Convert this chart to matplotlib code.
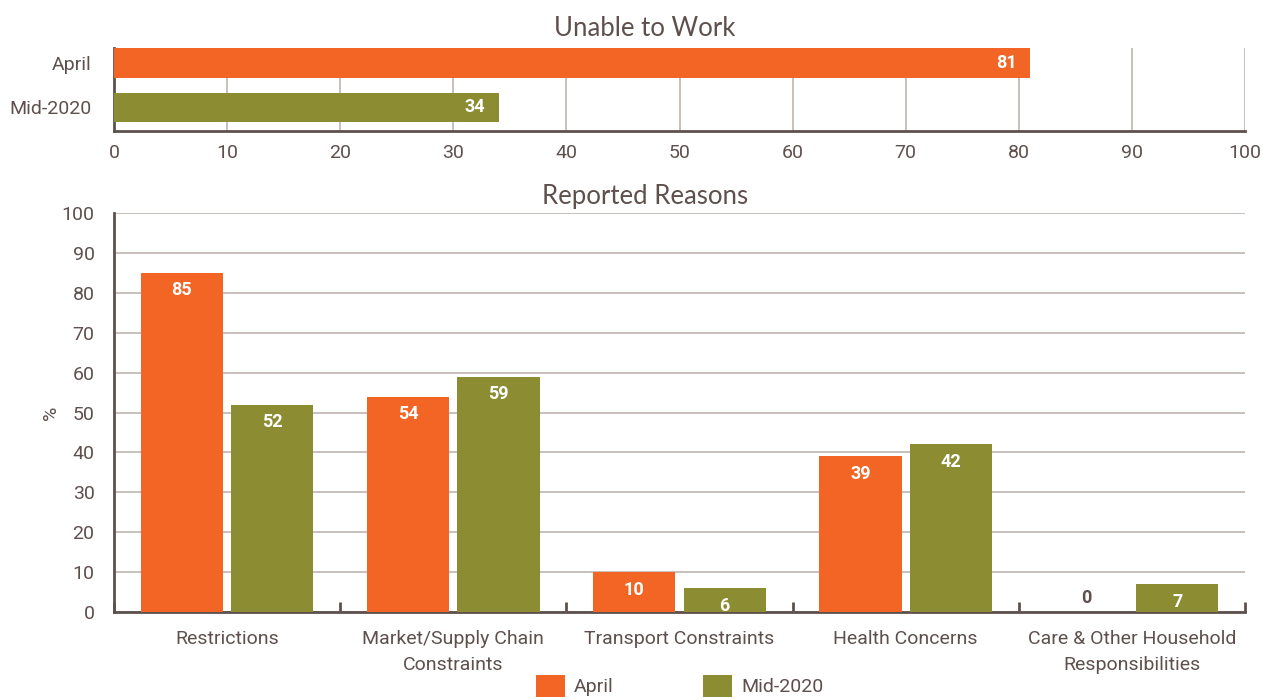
import numpy as np
import matplotlib.pyplot as plt

# datos
periods = ["April", "Mid-2020"]
unable = [81, 34]

reasons = ["Restrictions", "Market/Supply Chain\nConstraints", "Transport Constraints",
           "Health Concerns", "Care & Other Household\nResponsibilities"]
april = [85, 54, 10, 39, 0]
mid2020 = [52, 59, 6, 42, 7]

c_apr = "#F26524"
c_mid = "#8C8C33"
c_txt = "#5E504D"
c_grid = "#BDB5B2"
c_axis = "#5E504D"

plt.rcParams["font.family"] = ["Roboto", "DejaVu Sans"]

fig = plt.figure(figsize=(12.63, 7.0), dpi=100)
W, H = 1263, 700

def px_axes(x0, y0, x1, y1):
    return fig.add_axes([x0 / W, 1 - y1 / H, (x1 - x0) / W, (y1 - y0) / H])

# --- Unable to Work ---
ax1 = px_axes(114, 48, 1245, 131)
ypos = [1, 0]
ax1.barh(ypos, unable, height=0.67, color=[c_apr, c_mid], zorder=3)
ax1.set_xlim(0, 100)
ax1.set_ylim(-0.528, 1.335)
ax1.set_xticks(np.arange(0, 101, 10))
ax1.set_yticks(ypos)
ax1.set_yticklabels(periods)
ax1.grid(axis="x", color=c_grid, lw=1.2, zorder=0)
for s in ["top", "right"]:
    ax1.spines[s].set_visible(False)
for s in ["left", "bottom"]:
    ax1.spines[s].set_color(c_axis)
    ax1.spines[s].set_linewidth(2)
ax1.tick_params(length=0, labelsize=14, colors=c_txt, pad=9)
ax1.tick_params(axis="y", pad=16)
for y, v in zip(ypos, unable):
    ax1.text(v - 1.2, y, str(v), ha="right", va="center", color="white",
             fontsize=13, fontweight="bold", zorder=4)
fig.text(645 / W, 1 - 29 / H, "Unable to Work", ha="center", va="center",
         fontsize=18.5, color=c_txt, family=["Lato", "DejaVu Sans"])

# --- Reported Reasons ---
ax2 = px_axes(114, 213, 1245, 612)
x = np.arange(len(reasons))
w = 0.363
ax2.bar(x - 0.2, april, w, color=c_apr, zorder=3, label="April")
ax2.bar(x + 0.2, mid2020, w, color=c_mid, zorder=3, label="Mid-2020")
ax2.set_xlim(-0.5, len(reasons) - 0.5)
ax2.set_ylim(0, 100)
ax2.set_yticks(np.arange(0, 101, 10))
ax2.set_xticks(x)
ax2.set_xticklabels(reasons, linespacing=1.6)
ax2.set_xticks(np.arange(-0.5, len(reasons), 1), minor=True)
ax2.grid(axis="y", color=c_grid, lw=1.2, zorder=0)
for s in ["top", "right"]:
    ax2.spines[s].set_visible(False)
for s in ["left", "bottom"]:
    ax2.spines[s].set_color(c_axis)
    ax2.spines[s].set_linewidth(2)
ax2.tick_params(axis="x", which="major", length=0, labelsize=14, colors=c_txt, pad=13)
ax2.tick_params(axis="x", which="minor", length=7, width=2, color=c_axis, direction="in")
ax2.tick_params(axis="y", length=0, labelsize=14, colors=c_txt, pad=14)
ax2.set_ylabel("%", color=c_txt, fontsize=14, labelpad=1)
for xi, a, m in zip(x, april, mid2020):
    for xx, v in [(xi - 0.2, a), (xi + 0.2, m)]:
        if v == 0:
            ax2.text(xx, 3.5, "0", ha="center", va="center", color=c_txt,
                     fontsize=13, fontweight="bold", zorder=4)
        else:
            ax2.text(xx, v - 4.4, str(v), ha="center", va="center", color="white",
                     fontsize=13, fontweight="bold", zorder=4)
fig.text(645 / W, 1 - 197 / H, "Reported Reasons", ha="center", va="center",
         fontsize=18.5, color=c_txt, family=["Lato", "DejaVu Sans"])

leg = ax2.legend(loc="center", bbox_to_anchor=(0.5, -0.185), ncol=2, frameon=False,
                 fontsize=14, handlelength=1.5, handleheight=1.4, columnspacing=4.6,
                 handletextpad=0.45, borderpad=0)
for t in leg.get_texts():
    t.set_color(c_txt)

fig.savefig("out.png", dpi=100)
